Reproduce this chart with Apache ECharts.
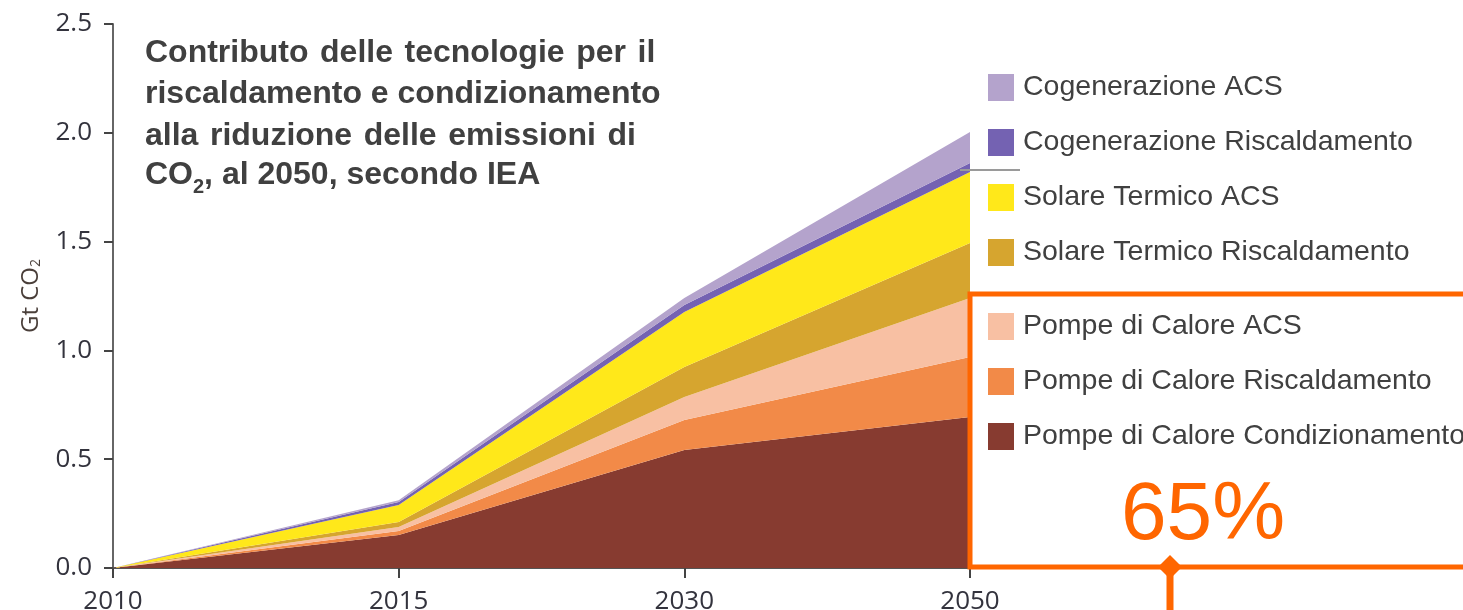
<!DOCTYPE html>
<html>
<head>
<meta charset="utf-8">
<script src="https://cdn.jsdelivr.net/npm/echarts@6/dist/echarts.min.js"></script>
<style>
html,body{margin:0;padding:0;background:#fff;}
#chart{width:1463px;height:610px;}
</style>
</head>
<body>
<div id="chart"></div>
<script>
// ---- data ----
const years = ['2010', '2015', '2030', '2050'];
const yTicks = [0, 0.5, 1.0, 1.5, 2.0, 2.5];
const pdcCondizionamento = [0, 0.152, 0.542, 0.694];
const pdcRiscaldamento   = [0, 0.018, 0.138, 0.276];
const pdcAcs             = [0, 0.018, 0.106, 0.271];
const solareRisc         = [0, 0.023, 0.138, 0.253];
const solareAcs          = [0, 0.079, 0.252, 0.326];
const cogenRisc          = [0, 0.013, 0.033, 0.041];
const cogenAcs           = [0, 0.008, 0.032, 0.143];
const seriesNames = [
  'Pompe di Calore Condizionamento',
  'Pompe di Calore Riscaldamento',
  'Pompe di Calore ACS',
  'Solare Termico Riscaldamento',
  'Solare Termico ACS',
  'Cogenerazione Riscaldamento',
  'Cogenerazione ACS'
];
const seriesData = [pdcCondizionamento, pdcRiscaldamento, pdcAcs, solareRisc, solareAcs, cogenRisc, cogenAcs];
const seriesColors = ['#873B30', '#F28A48', '#F8C0A3', '#D6A52F', '#FFE81A', '#7462B2', '#B4A3CC'];
const legendTop = ['Cogenerazione ACS', 'Cogenerazione Riscaldamento', 'Solare Termico ACS', 'Solare Termico Riscaldamento'];
const legendBottom = ['Pompe di Calore ACS', 'Pompe di Calore Riscaldamento', 'Pompe di Calore Condizionamento'];
const titleLines = [
  'Contributo \u200Adelle \u200Atecnologie \u200Aper \u200Ail',
  'riscaldamento e condizionamento',
  'alla \u200Ariduzione \u200Adelle \u200Aemissioni \u200Adi'
];
const titleLast = '{a|CO}{s|2}{a|, al 2050, secondo IEA}';
const highlight = '65%';

// ---- chart ----
const chart = echarts.init(document.getElementById('chart'), null, {renderer: 'canvas'});
const FONT = 'Liberation Sans, Arial, sans-serif';
const legendText = {fontFamily: FONT, fontSize: 28.5, color: '#404040', lineHeight: 28, padding: [0, 0, 0, 4]};
const titleColor = '#404040';
const graphics = titleLines.map((t, i) => ({
  type: 'text', left: 145, top: 37 + i * 41.5,
  style: {text: t, fontFamily: FONT, fontWeight: 'bold', fontSize: 32, fill: titleColor}
}));
graphics.push({
  type: 'text', left: 145, top: 35 + 3 * 41.5,
  style: {
    text: titleLast,
    rich: {
      a: {fontFamily: FONT, fontWeight: 'bold', fontSize: 32, fill: titleColor, lineHeight: 38, verticalAlign: 'top'},
      s: {fontFamily: FONT, fontWeight: 'bold', fontSize: 20, fill: titleColor, lineHeight: 20, verticalAlign: 'bottom'}
    }
  }
});
graphics.push(
  {type: 'line', shape: {x1: 960, y1: 170, x2: 1020, y2: 170}, style: {stroke: '#9a9a9a', lineWidth: 2}, z: 50},
  {type: 'rect', shape: {x: 970, y: 294, width: 520, height: 273}, style: {fill: 'none', stroke: '#FF6600', lineWidth: 5}, z: 60},
  {type: 'text', x: 1203, y: 516, style: {text: highlight, fontFamily: FONT, fontSize: 82, fill: '#FF6600', align: 'center', verticalAlign: 'middle'}, z: 60},
  {type: 'line', shape: {x1: 1170, y1: 567, x2: 1170, y2: 615}, style: {stroke: '#FF6600', lineWidth: 7}, z: 61},
  {type: 'polygon', shape: {points: [[1170, 555], [1182, 567], [1170, 579], [1158, 567]]}, style: {fill: '#FF6600'}, z: 61}
);

const option = {
  animation: false,
  backgroundColor: '#ffffff',
  grid: {left: 113, right: 493, top: 24, bottom: 42, containLabel: false, outerBoundsMode: 'none'},
  legend: [
    {orient: 'vertical', left: 988, top: 73, padding: 0, itemWidth: 26, itemHeight: 27, itemGap: 26, icon: 'rect', data: legendTop, textStyle: legendText, selectedMode: false},
    {orient: 'vertical', left: 988, top: 312, padding: 0, itemWidth: 26, itemHeight: 27, itemGap: 26, icon: 'rect', data: legendBottom, textStyle: legendText, selectedMode: false}
  ],
  xAxis: {
    type: 'category', data: years, boundaryGap: false,
    axisLine: {lineStyle: {color: '#555', width: 2}},
    axisTick: {show: true, length: 10, alignWithLabel: true, lineStyle: {color: '#444', width: 2}},
    axisLabel: {fontFamily: 'Open Sans, sans-serif', fontSize: 26, color: '#33333d', margin: 21},
    splitLine: {show: false}
  },
  yAxis: {
    type: 'value', min: yTicks[0], max: yTicks[yTicks.length - 1], interval: 0.5,
    name: 'Gt CO{s|2}', nameLocation: 'middle', nameRotate: 90, nameGap: 70,
    nameTextStyle: {
      fontFamily: 'Open Sans, sans-serif', fontSize: 24, color: '#4a3f3a',
      rich: {s: {fontFamily: 'Open Sans, sans-serif', fontSize: 14, color: '#4a3f3a', verticalAlign: 'bottom', lineHeight: 14}}
    },
    axisLine: {show: true, lineStyle: {color: '#666', width: 2}},
    axisTick: {show: true, length: 9, lineStyle: {color: '#444', width: 2}},
    axisLabel: {fontFamily: 'Open Sans, sans-serif', fontSize: 26, color: '#33333d', margin: 21, formatter: v => v.toFixed(1)},
    splitLine: {show: false}
  },
  series: seriesNames.map((n, i) => ({
    name: n, type: 'line', stack: 'total', data: seriesData[i],
    showSymbol: false, symbol: 'none',
    lineStyle: {width: 0},
    areaStyle: {color: seriesColors[i], opacity: 1},
    itemStyle: {color: seriesColors[i]},
    emphasis: {disabled: true}
  })),
  graphic: graphics
};
chart.setOption(option);
</script>
</body>
</html>
